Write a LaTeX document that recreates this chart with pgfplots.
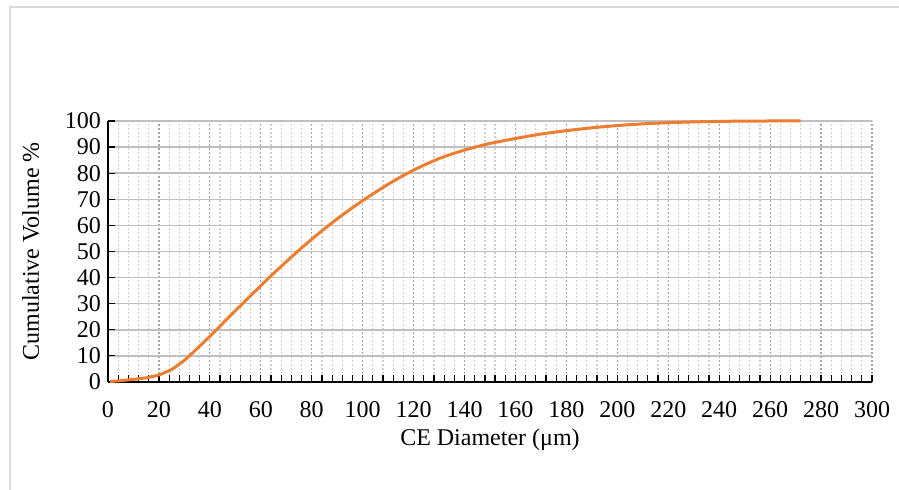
\documentclass[border=0pt]{standalone}
\usepackage{fontspec}
\setmainfont{Liberation Serif}
\usepackage{pgfplots}
\pgfplotsset{compat=1.18}
\definecolor{curve}{HTML}{ED7D31}
\definecolor{hgrid}{HTML}{BFBFBF}
\definecolor{vmaj}{HTML}{A6A6A6}
\definecolor{vmin}{HTML}{D0D0D0}
\definecolor{frame}{HTML}{D9D9D9}
\begin{document}
\begin{tikzpicture}
\path[use as bounding box] (0,0) rectangle (449.5pt,245pt);
\draw[frame, line width=1pt] (5pt,-2pt) -- (5pt,241.5pt) -- (452pt,241.5pt);
\begin{axis}[
  at={(54pt,54pt)}, anchor=south west,
  scale only axis, width=382pt, height=130.5pt,
  xmin=0, xmax=300, ymin=0, ymax=100,
  axis x line*=bottom, axis y line*=left,
  axis line style={-, black, line width=0.8pt},
  xtick distance=20, ytick distance=10,
  minor x tick num=4,
  tick align=inside,
  major tick length=3.5pt, minor tick length=3.5pt,
  tick style={black, line width=0.6pt},
  xmajorgrids, xminorgrids, ymajorgrids,
  x grid style={vmaj, dashed, dash pattern=on 1pt off 1pt, line width=0.6pt},
  minor x grid style={vmin, dash pattern=on 1pt off 1pt, line width=0.6pt},
  y grid style={hgrid, solid, line width=0.75pt},
  /pgf/number format/assume math mode=true,
  ticklabel style={font=\fontsize{12}{14}\selectfont},
  label style={font=\fontsize{12}{14}\selectfont},
  xlabel={CE Diameter (μm)},
  ylabel={Cumulative Volume \%},
  xticklabel style={yshift=-6pt},
  xlabel style={yshift=1pt},
  ylabel style={yshift=6pt},
  clip=false,
]
\addplot[curve, line width=1.5pt, smooth, tension=0.3] table {
x y
0.8 0.2
5 0.5
10 1.0
15 1.6
20 2.7
25 4.8
30 8.3
35 12.8
40 17.5
45 22.4
50 27.3
55 32.1
60 36.9
65 41.6
70 46.1
75 50.5
80 54.7
85 58.7
90 62.5
95 66.1
100 69.5
105 72.7
110 75.75
115 78.6
120 81.2
125 83.5
130 85.6
135 87.35
140 88.85
145 90.2
150 91.4
160 93.3
170 95.0
180 96.3
190 97.4
200 98.25
210 98.9
220 99.35
230 99.65
240 99.85
250 99.95
260 100
272 100
};
\end{axis}
\end{tikzpicture}
\end{document}
